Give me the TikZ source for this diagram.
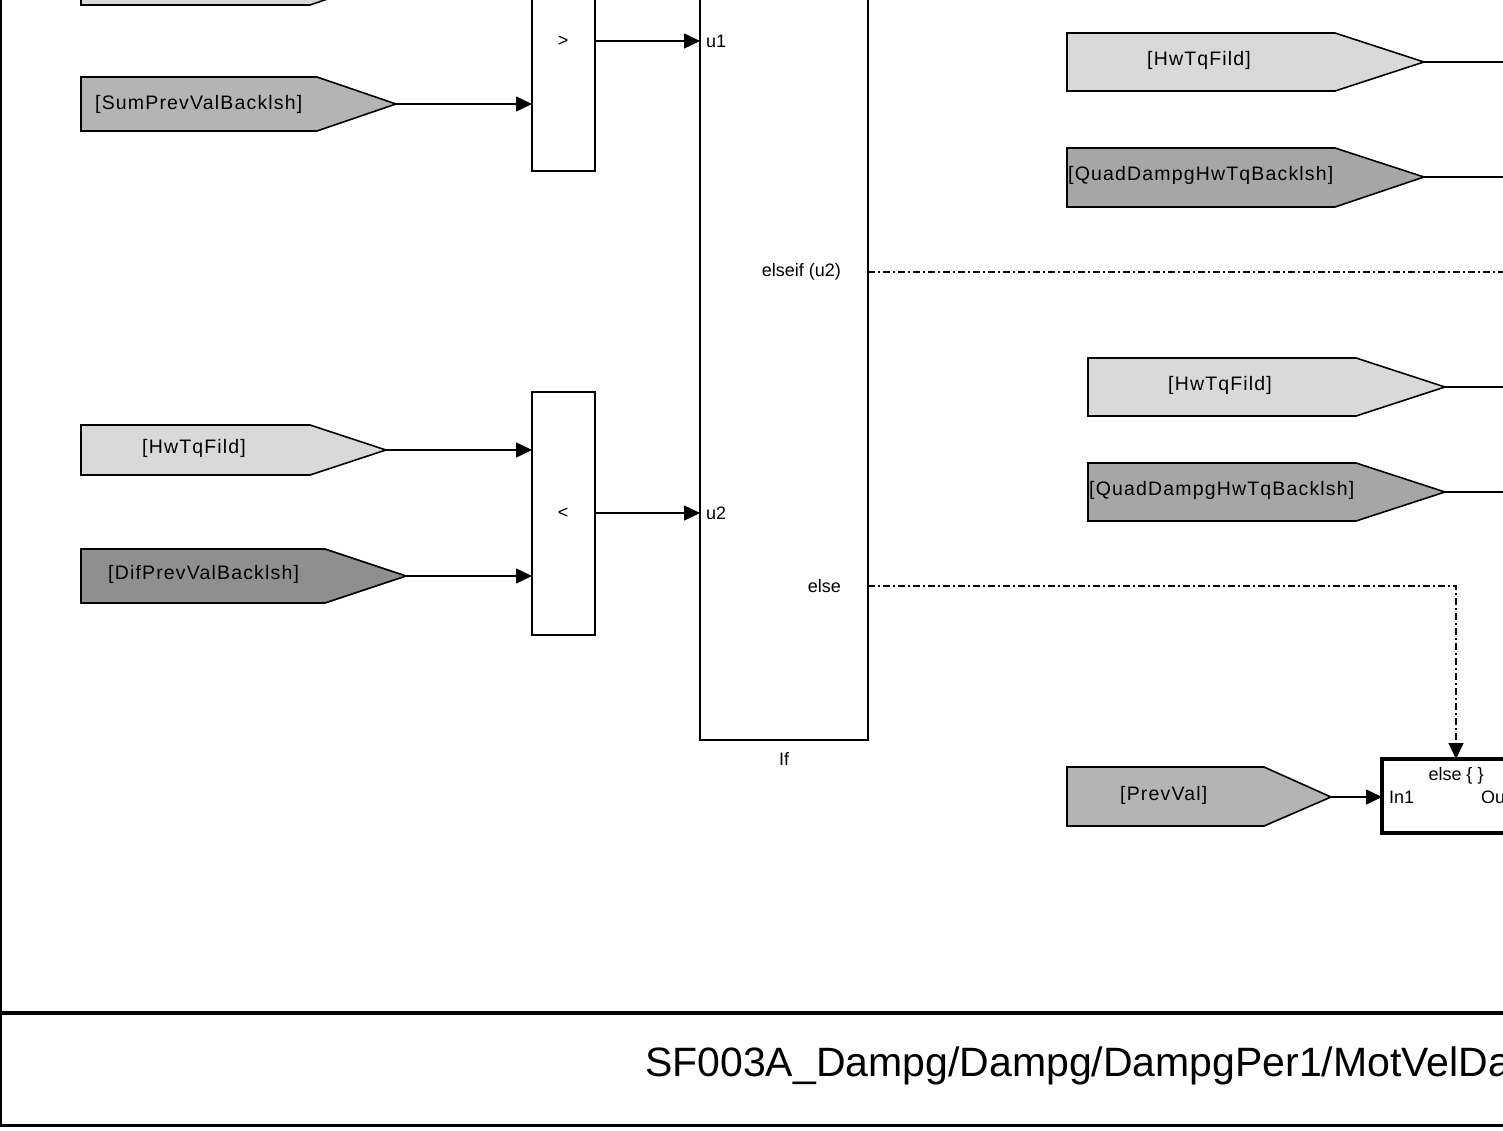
\documentclass[tikz,border=0pt]{standalone}
\usepackage{fontspec}
\setmainfont{Liberation Sans}
\usetikzlibrary{arrows.meta}

\definecolor{tagLight}{HTML}{D9D9D9}
\definecolor{tagMid}{HTML}{B4B4B4}
\definecolor{tagQuad}{HTML}{A6A6A6}
\definecolor{tagDark}{HTML}{8F8F8F}

\tikzset{
  tag/.style={draw=black, line width=1.6pt, line join=miter},
  tagtext/.style={font=\fontsize{19.5}{22}\selectfont\addfontfeature{LetterSpace=6},
                  inner sep=0pt, anchor=west},
  blk/.style={draw=black, line width=1.8pt, fill=white, inner sep=0pt, outer sep=0pt,
              anchor=north west},
  sysblk/.style={draw=black, line width=4pt, fill=white, inner sep=0pt, outer sep=0pt,
                 anchor=north west},
  port/.style={font=\fontsize{18}{20}\selectfont, inner sep=0pt},
  sig/.style={line width=1.5pt, -{Triangle[length=16pt,width=15pt]}},
  sigopen/.style={line width=1.5pt},
  ctrl/.style={line width=1.5pt, dash pattern=on 7pt off 3pt on 2pt off 3pt},
  ctrlarrow/.style={ctrl, -{Triangle[length=16pt,width=15pt]}},
  frame/.style={draw=black, line cap=rect},
}

\begin{document}
\begin{tikzpicture}[x=1pt, y=-1pt]
  \useasboundingbox (0,0) rectangle (1503,1131);
  \clip (0,0) rectangle (1503,1131);
  \fill[white] (0,0) rectangle (1503,1131);

  % sheet frame and title strip
  \draw[frame, line width=2.5pt] (1,-10) -- (1,1125.5) -- (1520,1125.5);
  \draw[frame, line width=4pt] (1,1013) -- (1520,1013);
  \node[font=\fontsize{41}{45}\selectfont, inner sep=0pt, anchor=west] (title)
    at (645,1066) {SF003A\_Dampg/Dampg/DampgPer1/MotVelDa};

  % ---------- left column: goto tags feeding the comparators ----------
  \draw[tag, fill=tagLight] (81,-49) -- (310,-49) -- (389,-22) coordinate (topTip)
        -- (310,5) -- (81,5) -- cycle;

  \draw[tag, fill=tagMid] (81,77) -- (317,77) -- (396,104) coordinate (sumTip)
        -- (317,131) -- (81,131) -- cycle;
  \node[tagtext] (sumTxt) at (95,104) {[SumPrevValBacklsh]};

  \draw[tag, fill=tagLight] (81,425) -- (310,425) -- (386,450) coordinate (hwLTip)
        -- (310,475) -- (81,475) -- cycle;
  \node[tagtext] (hwLTxt) at (142,448) {[HwTqFild]};

  \draw[tag, fill=tagDark] (81,549) -- (325,549) -- (406,576) coordinate (difTip)
        -- (325,603) -- (81,603) -- cycle;
  \node[tagtext] (difTxt) at (108,574) {[DifPrevValBacklsh]};

  % comparators
  \node[blk, minimum width=63pt, minimum height=191pt] (gt) at (532,-20) {};
  \node[port] (gtSym) at (563,41) {>};
  \node[blk, minimum width=63pt, minimum height=243pt] (lt) at (532,392) {};
  \node[port] (ltSym) at (563,513) {<};

  % if block
  \node[blk, minimum width=168pt, minimum height=760pt] (ifb) at (700,-20) {};
  \node[port, anchor=west] (u1) at (706,41) {u1};
  \node[port, anchor=west] (u2) at (706,513) {u2};
  \node[port, anchor=east] (elseifLbl) at (841,272) {elseif (u2)};
  \node[port, anchor=east] (elseLbl) at (841,586) {else};
  \node[port] (ifName) at (784,759) {If};

  % signal lines
  \draw[sig] (sumTip) -- (gt.west |- sumTip);
  \draw[sig] (gt.east |- gtSym) -- (ifb.west |- gtSym);
  \draw[sig] (hwLTip) -- (lt.west |- hwLTip);
  \draw[sig] (difTip) -- (lt.west |- difTip);
  \draw[sig] (lt.east |- ltSym) -- (ifb.west |- ltSym);

  % ---------- right column ----------
  \draw[tag, fill=tagLight] (1067,33) -- (1335,33) -- (1424,62) coordinate (hwR1Tip)
        -- (1335,91) -- (1067,91) -- cycle;
  \node[tagtext] (hwR1Txt) at (1147,60) {[HwTqFild]};
  \coordinate (hwR1End) at (1520,62);
  \draw[sigopen] (hwR1Tip) -- (hwR1End);

  \draw[tag, fill=tagQuad] (1067,148) -- (1335,148) -- (1424,177) coordinate (qR1Tip)
        -- (1335,207) -- (1067,207) -- cycle;
  \node[tagtext] (qR1Txt) at (1068,175) {[QuadDampgHwTqBacklsh]};
  \coordinate (qR1End) at (1520,177);
  \draw[sigopen] (qR1Tip) -- (qR1End);

  \draw[tag, fill=tagLight] (1088,358) -- (1356,358) -- (1445,387) coordinate (hwR2Tip)
        -- (1356,416) -- (1088,416) -- cycle;
  \node[tagtext] (hwR2Txt) at (1168,385) {[HwTqFild]};
  \coordinate (hwR2End) at (1520,387);
  \draw[sigopen] (hwR2Tip) -- (hwR2End);

  \draw[tag, fill=tagQuad] (1088,463) -- (1356,463) -- (1445,492) coordinate (qR2Tip)
        -- (1356,521) -- (1088,521) -- cycle;
  \node[tagtext] (qR2Txt) at (1089,490) {[QuadDampgHwTqBacklsh]};
  \coordinate (qR2End) at (1520,492);
  \draw[sigopen] (qR2Tip) -- (qR2End);

  \draw[tag, fill=tagMid] (1067,767) -- (1264,767) -- (1331,797) coordinate (pvTip)
        -- (1264,826) -- (1067,826) -- cycle;
  \node[tagtext] (pvTxt) at (1120,795) {[PrevVal]};

  % else action subsystem
  \node[sysblk, minimum width=148pt, minimum height=74pt] (elseSys) at (1382,759) {};
  \node[port] (elseSysName) at (1456,776) {else \{ \}};
  \node[port, anchor=west] (elseIn) at (1389,797) {In1};
  \node[port, anchor=west] (elseOut) at (1481,797) {Out1};
  \draw[sig] (pvTip) -- (elseSys.west |- pvTip);

  % action (control) lines
  \coordinate (elseifEnd) at (1520,272);
  \draw[ctrl] (ifb.east |- elseifLbl) -- (elseifEnd);
  \draw[ctrlarrow] (ifb.east |- elseLbl) -| (elseSys.north);
\end{tikzpicture}
\end{document}
